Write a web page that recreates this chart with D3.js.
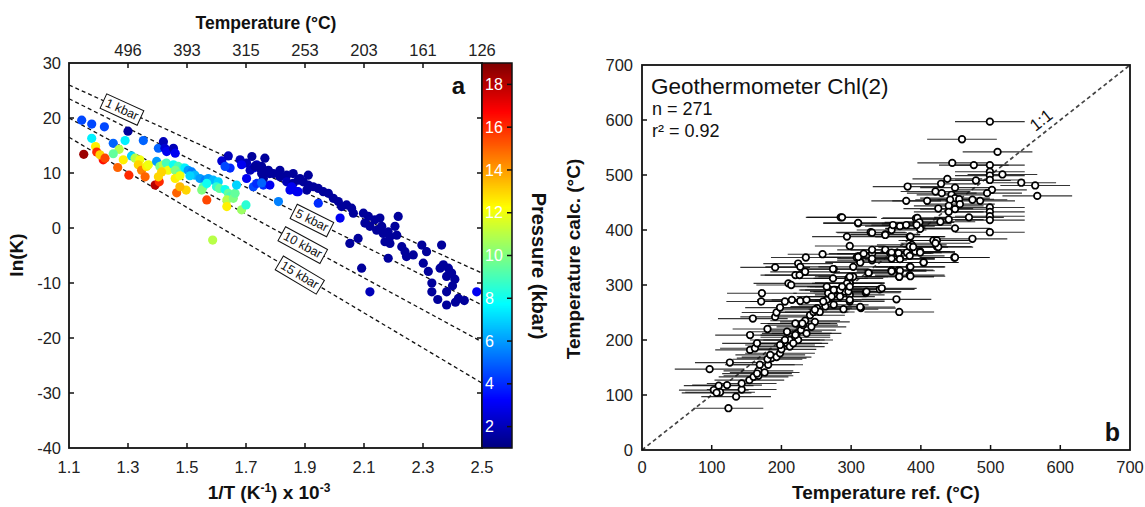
<!DOCTYPE html>
<html>
<head>
<meta charset="utf-8">
<script src="https://cdn.jsdelivr.net/npm/d3@7"></script>
<style>
  body { margin: 0; background: #fff; }
  svg { font-family: "Liberation Sans", Arial, sans-serif; }
  .tick-label { font-size: 16.5px; fill: #222; }
  .axis-title { font-size: 19px; font-weight: bold; fill: #111; }
</style>
</head>
<body>
<script>
// ---- panel a data: [1/T x 1e3, ln(K), pressure kbar]
var lnkPoints = [
  [1.143,19.6,4.5],[1.177,18.9,4.5],[1.22,18.4,4.5],[1.30,17.6,1.5],[1.177,16.3,7.5],[1.19,14.8,12.5],
  [1.15,13.4,18.5],[1.194,13.8,16],[1.216,12.4,16.5],[1.205,13.3,13],[1.222,12.7,15.5],[1.25,15.4,5],
  [1.27,14.3,11],[1.25,13.5,9.5],[1.29,15.9,7.5],[1.284,12.4,12.5],[1.265,11.0,15],[1.303,9.6,16],
  [1.352,15.9,5],[1.312,13.1,7],[1.324,12.7,11],[1.34,12.4,12],[1.335,11.5,13],[1.346,10.5,14.5],
  [1.363,11.2,12.5],[1.369,11.5,12],[1.358,9.3,15],[1.392,7.8,18],[1.406,8.4,16],[1.397,12.1,6],
  [1.403,14.5,5],[1.42,15.7,2],[1.425,14.5,2.5],[1.431,13.9,3],[1.454,14.5,2],[1.46,13.6,3],
  [1.408,11.2,10],[1.42,11.5,11],[1.43,11.8,9],[1.436,10.5,12],[1.414,10.2,13],[1.403,9.3,13],
  [1.454,11.5,8],[1.47,11.2,9],[1.487,10.9,8.5],[1.46,10.5,10],[1.476,9.9,9.5],[1.493,10.9,7.5],
  [1.46,9.0,12.5],[1.476,9.5,12],[1.465,6.4,15],[1.497,6.9,13],[1.476,7.5,13.5],[1.504,10.5,6],
  [1.516,10.2,5.5],[1.527,9.6,6.5],[1.544,9.0,6],[1.51,9.5,7],[1.561,8.7,5.5],[1.572,9.0,6],
  [1.589,8.7,6.5],[1.567,5.1,15.5],[1.555,7.5,9],[1.55,6.9,10],[1.567,8.1,8],[1.606,8.4,7],
  [1.6,7.5,8.5],[1.61,7.2,9.5],[1.629,7.0,8],[1.64,6.3,9.5],[1.646,5.7,9],[1.635,5.1,11],
  [1.657,5.4,10],[1.663,6.3,9.5],[1.685,3.3,10.5],[1.70,4.2,8.5],[1.635,3.9,12.5],[1.668,7.8,7],
  [1.587,-2.2,11],[1.618,12.2,2.5],[1.64,13.1,2],[1.646,10.9,4],[1.629,11.2,4.5],[1.68,12.4,2],
  [1.702,11.8,2],[1.72,13.0,1.5],[1.764,12.7,1.5],[1.736,11.5,2],[1.753,11.2,1.5],[1.725,10.9,3],
  [1.702,9.0,3],[1.685,11.5,3],[1.776,10.5,1.5],[1.753,9.9,1.5],[1.725,7.5,4.5],[1.736,8.1,4],
  [1.759,7.8,4],[1.781,7.8,3],[1.81,4.8,5.5],[1.793,9.9,1.5],[1.815,10.5,1.5],[1.838,9.6,1.5],
  [1.86,9.9,1.5],[1.883,9.0,1.5],[1.815,9.3,1.5],[1.838,8.4,2],[1.86,8.1,1.5],[1.872,6.6,3],
  [1.855,7.5,3],[1.906,6.9,1.5],[1.911,9.6,1.5],[1.714,10.5,2],[1.73,11.2,1.5],[1.747,10.9,1.5],
  [1.78,9.9,1.5],[1.759,9.0,1.5],[1.753,8.2,5],[1.877,8.7,1.5],[1.894,8.4,1.5],[1.911,7.8,1.5],
  [1.928,7.5,1.5],[1.945,7.2,1.5],[1.962,6.6,1.5],[1.979,6.3,1.5],[1.849,6.9,3],[1.877,6.6,3],
  [1.945,4.5,4],[1.996,5.4,1.5],[2.013,4.8,1.5],[2.024,3.9,1.5],[2.041,4.2,1.5],[2.058,3.6,1.5],
  [2.064,2.7,1.5],[2.019,1.8,3],[2.098,2.7,1.5],[2.115,2.1,1.5],[2.103,0.9,1.5],[2.12,0.3,1.5],
  [2.137,1.5,1.5],[2.154,1.8,1.5],[2.16,0.3,1.5],[2.143,-0.4,1.5],[2.165,-1.0,1.5],[2.182,-0.7,1.5],
  [2.188,-1.6,1.5],[2.211,-1.3,1.5],[2.216,2.1,1.5],[2.205,0.3,1.5],[2.171,-2.5,1.5],[2.188,-2.8,1.5],
  [2.182,-5.5,1.5],[2.228,-3.4,1.5],[2.239,-4.3,1.5],[2.244,-5.2,1.5],[2.267,-4.9,1.5],[2.296,-3.1,1.5],
  [2.312,-4.3,1.5],[2.301,-6.4,1.5],[2.318,-7.9,1.5],[2.363,-3.1,1.5],[2.369,-6.7,1.5],[2.386,-7.3,1.5],
  [2.38,-8.8,1.5],[2.397,-8.2,1.5],[2.408,-9.3,1.5],[2.358,-7.3,1.5],[2.052,-2.8,1.5],[2.08,-1.9,1.5],
  [2.092,-7.3,1.5],[2.12,-11.6,2],[2.33,-11.6,1.5],[2.38,-11.6,1.5],[2.42,-12.8,1.5],[2.482,-11.6,3],
  [2.35,-13.0,1.5],[2.38,-14.0,1.5],[2.41,-13.5,1.5],[2.44,-13.2,1.5],[2.33,-10.0,1.5],[2.40,-10.5,1.5]
];

// isobars: ln(K) at 1/T = 1.1 and 2.5, label position (1/T)
var isobarNames = ["1 kbar", "5 kbar", "10 kbar", "15 kbar"];
var isobarStart = [26.0, 23.5, 20.0, 16.5];
var isobarEnd = [-8.2, -14.0, -20.7, -28.2];
var isobarLabelAt = [1.28, 1.924, 1.893, 1.883];

var invTTicks = [1.1, 1.3, 1.5, 1.7, 1.9, 2.1, 2.3, 2.5];
var tempTicks = [1.3, 1.5, 1.7, 1.9, 2.1, 2.3, 2.5];
var tempLabels = ["496", "393", "315", "253", "203", "161", "126"];
var lnkTicks = [-40, -30, -20, -10, 0, 10, 20, 30];
var pressureTicks = [2, 4, 6, 8, 10, 12, 14, 16, 18];

// ---- panel b data: [T ref, T calc]
var chlPoints = [
  [124,76],[135,97],[143,110],[143,121],[97,147],[126,159],[103,109],[110,117],[112,105],[122,118],
  [107,104],[154,127],[160,133],[167,144],[167,135],[176,141],[181,155],[186,167],[193,169],[198,176],
  [200,183],[208,194],[212,200],[220,205],[222,212],[228,218],[220,230],[231,227],[234,235],[241,245],
  [246,251],[251,258],[255,251],[263,261],[265,273],[267,285],[265,297],[277,291],[291,297],[298,304],
  [296,312],[303,315],[155,182],[162,185],[165,194],[155,209],[159,239],[180,220],[191,242],[193,250],
  [198,259],[205,270],[215,273],[227,271],[236,273],[172,285],[171,270],[210,303],[214,300],[191,332],
  [220,318],[226,318],[224,339],[227,333],[234,324],[235,350],[259,356],[275,329],[303,333],[308,350],
  [313,342],[325,322],[330,345],[321,286],[314,258],[298,270],[298,282],[289,256],[272,279],[275,264],
  [284,279],[291,288],[260,270],[248,233],[236,212],[243,224],[224,200],[165,139],[169,155],[180,165],
  [184,173],[198,191],[212,188],[217,194],[220,209],[208,215],[205,200],[285,423],[310,412],[294,388],
  [328,396],[349,392],[358,400],[360,409],[370,407],[379,409],[393,421],[394,412],[399,403],[384,388],
  [387,373],[418,381],[423,370],[449,403],[474,384],[448,350],[404,341],[298,371],[274,329],[313,341],
  [330,357],[349,364],[356,358],[365,358],[370,348],[358,327],[368,327],[369,315],[384,333],[384,318],
  [392,361],[399,361],[380,359],[341,292],[322,288],[298,303],[296,288],[298,273],[313,260],[275,291],
  [284,291],[365,274],[369,251],[274,312],[248,255],[230,230],[499,597],[459,565],[510,542],[445,522],
  [476,518],[499,518],[499,506],[499,499],[499,491],[517,501],[479,490],[438,493],[544,486],[564,481],
  [567,462],[502,473],[495,467],[429,484],[381,479],[449,477],[421,470],[430,467],[444,464],[449,458],
  [455,456],[442,455],[456,447],[379,453],[409,453],[474,455],[485,453],[440,444],[449,438],[440,433],
  [425,439],[499,441],[499,433],[499,425],[499,418],[499,396],[469,423],[440,419],[428,415],[395,422],
  [398,414],[399,402],[385,388],[394,409],[349,391],[330,395],[310,413],[287,423],[330,364],[358,359],
  [368,358],[384,370],[389,369],[399,359],[423,381],[425,369],[421,376],[449,350],[310,351],[318,357],
  [330,348],[358,348],[370,347],[384,353],[404,341],[385,333],[370,326],[358,325],[369,315],[385,316],
  [325,322],[298,315],[294,303],[298,297],[287,297],[344,294]
];
var chlErr = 50; // half width of error bars (°C)
var refTicks = [0, 100, 200, 300, 400, 500, 600, 700];
var calcTicks = [0, 100, 200, 300, 400, 500, 600, 700];

var W = 1145, H = 507;
var svg = d3.select("body").append("svg")
  .attr("width", W).attr("height", H);
svg.append("rect").attr("width", W).attr("height", H).attr("fill", "#fff");

// ================= panel a =================
var xL = d3.scaleLinear().domain([1.1, 2.5]).range([69, 482]);
var yL = d3.scaleLinear().domain([-40, 30]).range([448, 63]);

// jet colormap
var jet = d3.scaleLinear()
  .domain([0, 0.125, 0.375, 0.625, 0.875, 1])
  .range(["#00007f", "#0000ff", "#00ffff", "#ffff00", "#ff0000", "#7f0000"])
  .interpolate(d3.interpolateRgb);
var pScale = d3.scaleLinear().domain([1, 19]).range([0, 1]);
var pColor = function(p) { return jet(pScale(p)); };

var gA = svg.append("g");

// isobar lines
isobarNames.forEach(function(name, i) {
  gA.append("line")
    .attr("x1", xL(1.1)).attr("y1", yL(isobarStart[i]))
    .attr("x2", xL(2.5)).attr("y2", yL(isobarEnd[i]))
    .attr("stroke", "#111").attr("stroke-width", 1.3)
    .attr("stroke-dasharray", "4,3");
});

// points
gA.append("g").selectAll("circle")
  .data(lnkPoints)
  .enter().append("circle")
  .attr("cx", function(d) { return xL(d[0]); })
  .attr("cy", function(d) { return yL(d[1]); })
  .attr("r", 4.6)
  .attr("fill", function(d) { return pColor(d[2]); });

// isobar label boxes
isobarNames.forEach(function(name, i) {
  var v = isobarLabelAt[i];
  var yv = isobarStart[i] + (isobarEnd[i] - isobarStart[i]) * (v - 1.1) / 1.4;
  var ang = Math.atan2(yL(isobarEnd[i]) - yL(isobarStart[i]), xL(2.5) - xL(1.1)) * 180 / Math.PI;
  var g = gA.append("g")
    .attr("transform", "translate(" + xL(v) + "," + yL(yv) + ") rotate(" + ang + ")");
  var t = g.append("text").attr("text-anchor", "middle").attr("dy", "0.35em")
    .style("font-size", "12.5px").attr("fill", "#111").text(name);
  var bb = t.node().getBBox();
  g.insert("rect", "text")
    .attr("x", bb.x - 3).attr("y", bb.y - 1)
    .attr("width", bb.width + 6).attr("height", bb.height + 2)
    .attr("fill", "#fff").attr("stroke", "#111").attr("stroke-width", 1);
});

// frame
gA.append("rect").attr("x", 69).attr("y", 63).attr("width", 413).attr("height", 385)
  .attr("fill", "none").attr("stroke", "#111").attr("stroke-width", 1.8);

// bottom ticks + labels
invTTicks.forEach(function(v, i) {
  if (i > 0 && i < invTTicks.length - 1) {
    gA.append("line").attr("x1", xL(v)).attr("x2", xL(v)).attr("y1", 448).attr("y2", 443)
      .attr("stroke", "#111").attr("stroke-width", 1.5);
  }
  gA.append("text").attr("class", "tick-label").attr("x", xL(v)).attr("y", 473)
    .attr("text-anchor", "middle").text(d3.format(".1f")(v));
});
// top ticks + temperature labels
tempTicks.forEach(function(v, i) {
  if (i < tempTicks.length - 1) {
    gA.append("line").attr("x1", xL(v)).attr("x2", xL(v)).attr("y1", 63).attr("y2", 68)
      .attr("stroke", "#111").attr("stroke-width", 1.5);
  }
  gA.append("text").attr("class", "tick-label").attr("x", xL(v)).attr("y", 56)
    .attr("text-anchor", "middle").text(tempLabels[i]);
});
// y ticks (left + right)
lnkTicks.forEach(function(v, i) {
  if (i > 0 && i < lnkTicks.length - 1) {
    gA.append("line").attr("x1", 69).attr("x2", 74).attr("y1", yL(v)).attr("y2", yL(v))
      .attr("stroke", "#111").attr("stroke-width", 1.5);
    gA.append("line").attr("x1", 482).attr("x2", 477).attr("y1", yL(v)).attr("y2", yL(v))
      .attr("stroke", "#111").attr("stroke-width", 1.5);
  }
  gA.append("text").attr("class", "tick-label").attr("x", 61).attr("y", yL(v)).attr("dy", "0.35em")
    .attr("text-anchor", "end").text(v);
});

gA.append("text").attr("class", "axis-title").attr("x", 266).attr("y", 29)
  .style("font-size", "17.5px")
  .attr("text-anchor", "middle").text("Temperature (°C)");
var xt = gA.append("text").attr("class", "axis-title").attr("x", 269).attr("y", 499)
  .attr("text-anchor", "middle");
xt.append("tspan").text("1/T (K");
xt.append("tspan").attr("baseline-shift", "super").style("font-size", "12px").text("-1");
xt.append("tspan").text(") x 10");
xt.append("tspan").attr("baseline-shift", "super").style("font-size", "12px").text("-3");
gA.append("text").attr("class", "axis-title")
  .attr("transform", "translate(23,255) rotate(-90)")
  .attr("text-anchor", "middle").text("ln(K)");
gA.append("text").attr("x", 465).attr("y", 94).attr("text-anchor", "end")
  .style("font-size", "24px").style("font-weight", "bold").attr("fill", "#111").text("a");

// colorbar
var yP = d3.scaleLinear().domain([1, 19]).range([448, 63]);
var cb = svg.append("g");
d3.range(0, 385).forEach(function(k) {
  var p = yP.invert(448 - k - 0.5);
  cb.append("rect").attr("x", 482).attr("y", 448 - k - 1).attr("width", 30).attr("height", 1.2)
    .attr("fill", pColor(p));
});
cb.append("rect").attr("x", 482).attr("y", 63).attr("width", 30).attr("height", 385)
  .attr("fill", "none").attr("stroke", "#111").attr("stroke-width", 1.5);
pressureTicks.forEach(function(p) {
  cb.append("line").attr("x1", 512).attr("x2", 507).attr("y1", yP(p)).attr("y2", yP(p))
    .attr("stroke", "#111").attr("stroke-width", 1.5);
  cb.append("text").attr("x", 485).attr("y", yP(p)).attr("dy", "0.35em")
    .style("font-size", "16px").attr("fill", "#fff").text(p);
});
cb.append("text").attr("class", "axis-title")
  .attr("transform", "translate(532,266) rotate(90)")
  .style("font-size", "20px")
  .attr("text-anchor", "middle").text("Pressure (kbar)");

// ================= panel b =================
var xR = d3.scaleLinear().domain([0, 700]).range([642, 1130]);
var yR = d3.scaleLinear().domain([0, 700]).range([450, 65]);
var gB = svg.append("g");

gB.append("line")
  .attr("x1", xR(0)).attr("y1", yR(0)).attr("x2", xR(700)).attr("y2", yR(700))
  .attr("stroke", "#444").attr("stroke-width", 1.7).attr("stroke-dasharray", "4,3");

gB.append("g").selectAll("line")
  .data(chlPoints)
  .enter().append("line")
  .attr("x1", function(d) { return xR(d[0] - chlErr); })
  .attr("x2", function(d) { return xR(d[0] + chlErr); })
  .attr("y1", function(d) { return yR(d[1]); })
  .attr("y2", function(d) { return yR(d[1]); })
  .attr("stroke", "#111").attr("stroke-width", 1.15).attr("stroke-opacity", 0.85);

gB.append("g").selectAll("circle")
  .data(chlPoints)
  .enter().append("circle")
  .attr("cx", function(d) { return xR(d[0]); })
  .attr("cy", function(d) { return yR(d[1]); })
  .attr("r", 3.3)
  .attr("fill", "#fff").attr("stroke", "#000").attr("stroke-width", 1.7);

gB.append("rect").attr("x", 642).attr("y", 65).attr("width", 488).attr("height", 385)
  .attr("fill", "none").attr("stroke", "#111").attr("stroke-width", 1.8);

refTicks.forEach(function(v, i) {
  if (i > 0 && i < refTicks.length - 1) {
    gB.append("line").attr("x1", xR(v)).attr("x2", xR(v)).attr("y1", 450).attr("y2", 445)
      .attr("stroke", "#111").attr("stroke-width", 1.5);
  }
  gB.append("text").attr("class", "tick-label").attr("x", xR(v)).attr("y", 473)
    .attr("text-anchor", "middle").text(v);
});
calcTicks.forEach(function(v, i) {
  if (i > 0 && i < calcTicks.length - 1) {
    gB.append("line").attr("x1", 642).attr("x2", 647).attr("y1", yR(v)).attr("y2", yR(v))
      .attr("stroke", "#111").attr("stroke-width", 1.5);
  }
  gB.append("text").attr("class", "tick-label").attr("x", 633).attr("y", yR(v)).attr("dy", "0.35em")
    .attr("text-anchor", "end").text(v);
});

gB.append("text").attr("x", 651).attr("y", 94)
  .style("font-size", "22.5px").attr("fill", "#111").text("Geothermometer Chl(2)");
gB.append("text").attr("x", 652).attr("y", 115)
  .style("font-size", "18px").attr("fill", "#111").text("n = 271");
gB.append("text").attr("x", 652).attr("y", 137)
  .style("font-size", "18px").attr("fill", "#111").text("r² = 0.92");

var diagAng = Math.atan2(yR(700) - yR(0), xR(700) - xR(0)) * 180 / Math.PI;
gB.append("text")
  .attr("transform", "translate(" + xR(583) + "," + yR(583) + ") rotate(" + diagAng + ")")
  .attr("text-anchor", "middle").attr("dy", "-6")
  .style("font-size", "17px").attr("fill", "#111").text("1:1");

gB.append("text").attr("class", "axis-title").attr("x", 886).attr("y", 499)
  .attr("text-anchor", "middle").text("Temperature ref. (°C)");
gB.append("text").attr("class", "axis-title")
  .attr("transform", "translate(580,259) rotate(-90)")
  .attr("text-anchor", "middle").text("Temperature calc. (°C)");
gB.append("text").attr("x", 1120).attr("y", 441).attr("text-anchor", "end")
  .style("font-size", "25px").style("font-weight", "bold").attr("fill", "#111").text("b");
</script>
</body>
</html>
